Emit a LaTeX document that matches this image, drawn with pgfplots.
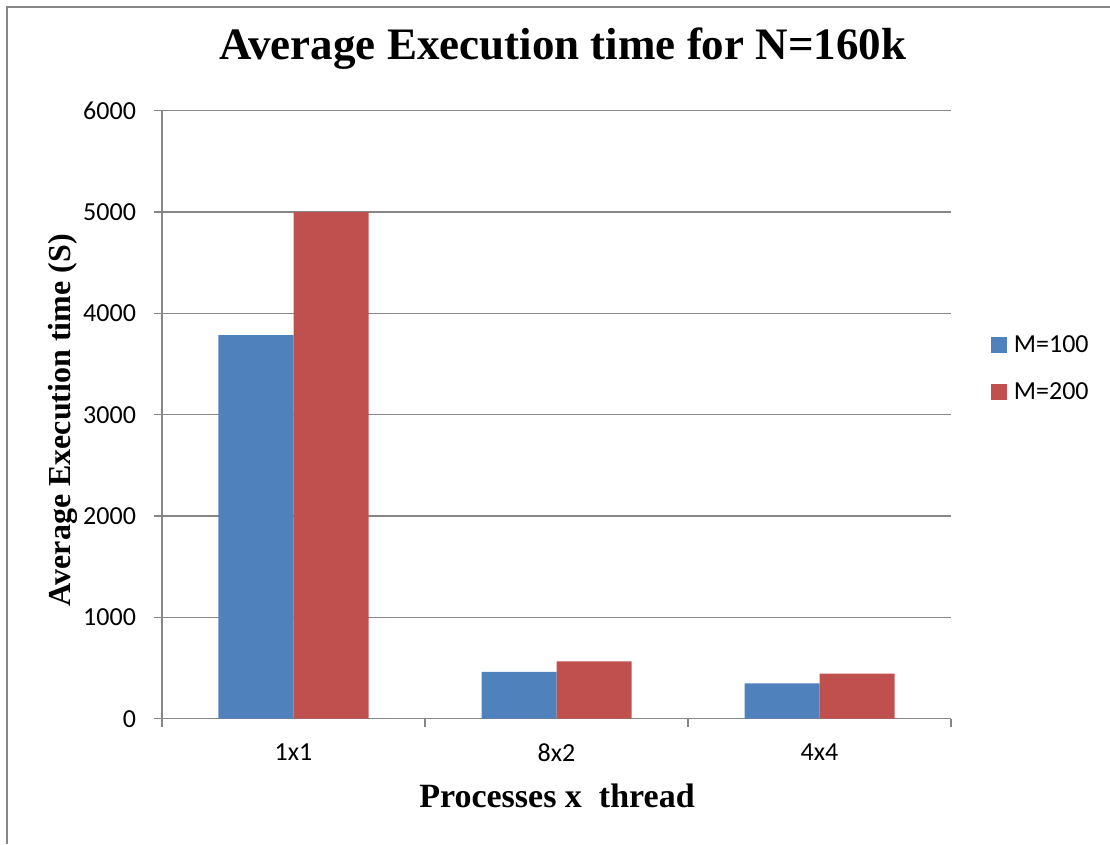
\documentclass[border=0pt]{standalone}
\usepackage{pgfplots}
\pgfplotsset{compat=1.18}
\usepackage{fontspec}
\setmainfont{Carlito}
\newfontfamily\capfont{Liberation Serif}

\definecolor{barblue}{HTML}{4F81BD}
\definecolor{barred}{HTML}{C0504D}
\definecolor{linegray}{HTML}{868686}

\begin{document}
\begin{tikzpicture}
\useasboundingbox (0pt,0pt) rectangle (832.5pt,633pt);
% chart area frame
\draw[linegray, line width=1.5pt] (5.25pt,0pt) -- (5.25pt,627.75pt) -- (832.5pt,627.75pt);
\begin{axis}[
  at={(121.5pt,94pt)}, anchor=south west,
  scale only axis, width=591.75pt, height=456pt,
  xmin=-0.5, xmax=2.5, ymin=0, ymax=6000,
  ybar=0pt, bar width=56.25pt,
  xtick={0,1,2}, xticklabels={1x1,8x2,4x4},
  minor xtick={-0.5,0.5,1.5,2.5},
  major x tick style={draw=none},
  ytick={0,1000,...,6000},
  axis x line*=bottom, axis y line*=left,
  ymajorgrids, grid style={linegray, line width=0.9pt},
  tick align=outside, major tick length=6pt, minor tick length=6pt,
  tick style={linegray, line width=0.9pt},
  axis line style={linegray, line width=0.9pt},
  /pgf/number format/assume math mode=true,
  /pgf/number format/1000 sep={},
  tick label style={font=\fontsize{19.5}{23}\selectfont, text=black},
  yticklabel style={xshift=-10pt},
  xticklabel style={yshift=-9pt},
  title={Average Execution time for N=160k},
  title style={font=\capfont\bfseries\fontsize{33.75}{40}\selectfont,
    at={(axis description cs:0.508,1.0707)}, anchor=base},
  xlabel={Processes x\ \ thread},
  xlabel style={font=\capfont\bfseries\fontsize{25.5}{30}\selectfont,
    at={(axis description cs:0.5006,-0.1453)}, anchor=base},
  ylabel={Average Execution time (S)},
  ylabel style={font=\capfont\bfseries\fontsize{24}{28}\selectfont,
    at={(axis description cs:-0.1166,0.491)}, anchor=base, rotate=0},
  legend style={at={(axis description cs:1.0507,0.576)}, anchor=west,
    draw=none, fill=none, inner sep=0pt, row sep=17pt,
    font=\fontsize{19.5}{23}\selectfont},
  legend cell align=left,
  legend image code/.code={\fill[#1,draw=none] (0pt,-6pt) rectangle (12pt,6pt);
    \path (15pt,0pt);},
]
\addplot[fill=barblue, draw=none] coordinates {(0,3785) (1,461) (2,349)};
\addplot[fill=barred, draw=none] coordinates {(0,5000) (1,566) (2,444)};
\legend{M=100, M=200}
\end{axis}
\end{tikzpicture}
\end{document}
